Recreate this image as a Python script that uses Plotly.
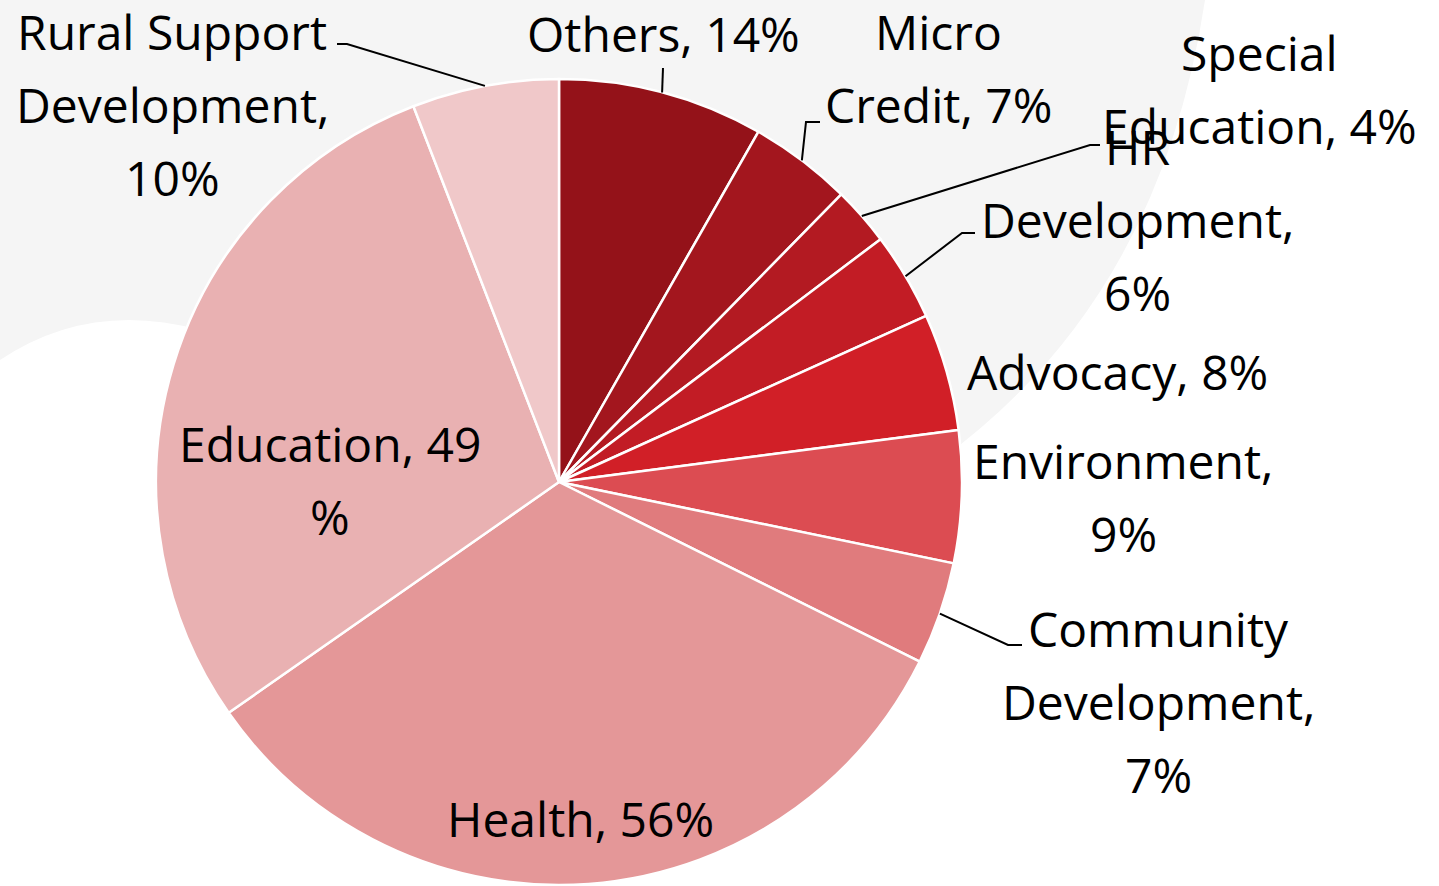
import math
import plotly.graph_objects as go

# ---- data ----
categories = ["Others", "Micro Credit", "Special Education", "HR Development", "Advocacy",
              "Environment", "Community Development", "Health", "Education",
              "Rural Support Development"]
values = [14, 7, 4, 6, 8, 9, 7, 56, 49, 10]
colors = ["#941219", "#A3161E", "#B31A22", "#C21C25", "#D11F27",
          "#DC4C52", "#E07B7D", "#E49798", "#E9B1B2", "#F0C8C9"]

# label lines (text split into rows as in the reference)
label_lines = {
    "Others": ["Others, 14%"],
    "Micro Credit": ["Micro", "Credit, 7%"],
    "Special Education": ["Special", "Education, 4%"],
    "HR Development": ["HR", "Development,", "6%"],
    "Advocacy": ["Advocacy, 8%"],
    "Environment": ["Environment,", "9%"],
    "Community Development": ["Community", "Development,", "7%"],
    "Health": ["Health, 56%"],
    "Education": ["Education, 49", "%"],
    "Rural Support Development": ["Rural Support", "Development,", "10%"],
}

# ---- layout geometry (pixels) ----
W, H = 1439, 886
CX, CY, R = 559, 482, 403
LINE_H = 73
FONT = dict(family="Open Sans, sans-serif", size=48, color="#000000")

# label first-line centre (pixels)
label_pos = {
    "Others": (663, 33),
    "Micro Credit": (938, 31),
    "Special Education": (1259, 52),
    "HR Development": (1137, 146),
    "Advocacy": (1117, 371),
    "Environment": (1123, 460),
    "Community Development": (1158, 628),
    "Health": (580, 818),
    "Education": (330, 443),
    "Rural Support Development": (172, 31),
}
# leader line: (elbow point, text-side end point) in pixels
leaders = {
    "Rural Support Development": ((347, 44), (337, 44)),
    "Others": ((663, 68), (663, 68)),
    "Micro Credit": ((806, 122), (820, 122)),
    "Special Education": ((1090, 145), (1100, 145)),
    "HR Development": ((962, 233), (975, 233)),
    "Community Development": ((1008, 645), (1022, 645)),
}


def px(x):
    return x / W


def py(y):
    return 1 - y / H


def P(x, y):
    return f"{px(x)},{py(y)}"


fig = go.Figure(go.Pie(
    labels=categories,
    values=values,
    marker=dict(colors=colors, line=dict(color="#FFFFFF", width=2.5)),
    sort=False,
    direction="clockwise",
    rotation=0,
    textinfo="none",
    hoverinfo="label+value",
    showlegend=False,
    domain=dict(x=[px(CX - R), px(CX + R)], y=[py(CY + R), py(CY - R)]),
))

# anchor points on the pie rim, computed from the data
total = sum(values)
cum = 0
anchors = {}
for cat, v in zip(categories, values):
    mid = (cum + v / 2) / total * 2 * math.pi
    anchors[cat] = (CX + R * math.sin(mid), CY - R * math.cos(mid))
    cum += v

# faint background watermark (soft grey area in the upper left)
wm_path = (f"M {P(0, 0)} L {P(1205, 0)} Q {P(1160, 300)} {P(940, 460)} "
           f"L {P(CX, CY)} L {P(200, 330)} Q {P(90, 300)} {P(0, 360)} Z")
shapes = [dict(type="path", path=wm_path, xref="paper", yref="paper",
               fillcolor="#F5F5F5", line=dict(width=0), layer="below")]
for cat, (elbow, end) in leaders.items():
    ax, ay = anchors[cat]
    path = f"M {P(ax, ay)} L {P(*elbow)} L {P(*end)}"
    shapes.append(dict(type="path", path=path, xref="paper", yref="paper",
                       line=dict(color="#000000", width=2)))

annotations = []
for cat in categories:
    x0, y0 = label_pos[cat]
    for i, line in enumerate(label_lines[cat]):
        annotations.append(dict(
            text=line, x=px(x0), y=py(y0 + i * LINE_H), xref="paper", yref="paper",
            xanchor="center", yanchor="middle", showarrow=False, font=FONT))

fig.update_layout(
    width=W, height=H,
    margin=dict(l=0, r=0, t=0, b=0),
    paper_bgcolor="#FFFFFF",
    plot_bgcolor="rgba(0,0,0,0)",
    shapes=shapes,
    annotations=annotations,
)

fig.write_html("out.html", config={"displayModeBar": False})
